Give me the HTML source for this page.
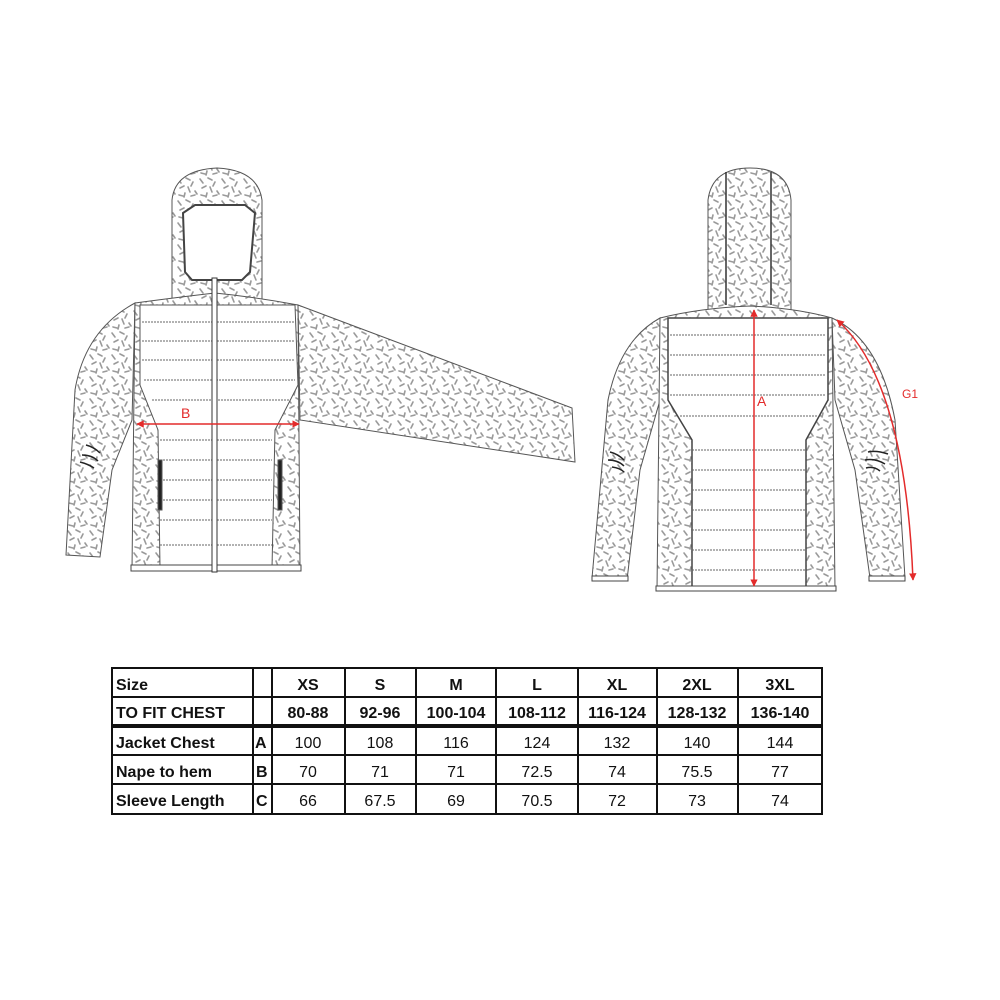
<!DOCTYPE html>
<html><head><meta charset="utf-8"><style>
html,body{margin:0;padding:0;background:#fff;}
svg{display:block;}
</style></head><body>
<svg width="1000" height="1000" viewBox="0 0 1000 1000" xmlns="http://www.w3.org/2000/svg">
<defs>
<pattern id="sp" width="22" height="22" patternUnits="userSpaceOnUse">
<rect width="22" height="22" fill="#fff"/>
<g stroke="#9a9a9a" stroke-width="1.6" stroke-linecap="round" fill="none">
<path d="M2 3 l3 4"/><path d="M10 2 l4 2"/><path d="M17 6 l-2 4"/><path d="M4 12 l4 -2"/><path d="M12 11 l2 5"/><path d="M19 15 l2 3"/><path d="M3 19 l4 1"/><path d="M9 17 l-1 4"/><path d="M15 20 l4 -1"/>
</g>
</pattern>
<marker id="ar" viewBox="0 0 10 10" refX="9" refY="5" markerWidth="5" markerHeight="5" orient="auto-start-reverse"><path d="M0 0 L10 5 L0 10 z" fill="#e32b2b"/></marker>
</defs>
<g stroke="#555" stroke-width="1">
<!-- FRONT JACKET -->
<path d="M172 300 L172 200 Q175 170 217 168 Q258 170 262 200 L262 300 Z" fill="url(#sp)"/>
<path d="M183 213 L195 205 L245 205 L255 213 L250 272 L242 280 L192 280 L185 272 Z" fill="#fff" stroke="#444" stroke-width="2"/>
<!-- right extended sleeve -->
<path d="M298 305 L572 408 L575 462 L300 420 Z" fill="url(#sp)"/>
<!-- left sleeve -->
<path d="M135 303 Q85 330 75 390 L66 555 L100 557 L112 470 L132 420 Z" fill="url(#sp)"/>
<!-- body -->
<path d="M135 303 Q180 297 215 293 Q255 297 298 305 L300 570 L132 570 Z" fill="url(#sp)"/>
<path d="M140 305 L295 305 L298 385 L275 430 L272 568 L160 568 L158 430 L140 385 Z" fill="#fff"/>
<g stroke="#666" stroke-dasharray="2 1">
<line x1="142" y1="322" x2="295" y2="322"/><line x1="142" y1="341" x2="295" y2="341"/><line x1="142" y1="360" x2="295" y2="360"/><line x1="144" y1="380" x2="295" y2="380"/><line x1="152" y1="400" x2="290" y2="400"/><line x1="160" y1="440" x2="272" y2="440"/><line x1="160" y1="460" x2="272" y2="460"/><line x1="160" y1="480" x2="272" y2="480"/><line x1="160" y1="500" x2="272" y2="500"/><line x1="160" y1="520" x2="272" y2="520"/><line x1="160" y1="545" x2="272" y2="545"/>
</g>
<rect x="131" y="565" width="170" height="6" fill="#fff" stroke="#444"/>
<rect x="212" y="278" width="5" height="294" fill="#fff" stroke="#333"/>
<rect x="158" y="460" width="4" height="50" fill="#222"/>
<rect x="278" y="460" width="4" height="50" fill="#222"/>
<path d="M86 445 q8 2 14 8 M82 455 q10 0 16 6 M80 462 q8 2 14 6" stroke="#222" stroke-width="1.5" fill="none"/>
<!-- BACK JACKET -->
<path d="M708 310 L708 200 Q712 168 750 168 Q788 168 791 200 L791 310 Z" fill="url(#sp)"/>
<path d="M726 172 L726 305 M771 172 L771 305" stroke="#333" stroke-width="1.5"/>
<path d="M660 318 Q620 340 608 400 L592 578 L627 580 L640 470 L660 400 Z" fill="url(#sp)"/>
<path d="M832 318 Q880 340 895 420 L905 578 L870 578 L855 470 L835 400 Z" fill="url(#sp)"/>
<path d="M660 318 Q700 308 750 306 Q795 308 832 318 L835 590 L657 590 Z" fill="url(#sp)"/>
<path d="M668 318 L828 318 L828 400 L806 440 L806 587 L692 587 L692 440 L668 400 Z" fill="#fff" stroke="#444" stroke-width="1.5"/>
<g stroke="#666" stroke-dasharray="2 1">
<line x1="670" y1="335" x2="826" y2="335"/><line x1="670" y1="355" x2="826" y2="355"/><line x1="670" y1="375" x2="826" y2="375"/><line x1="670" y1="395" x2="826" y2="395"/><line x1="680" y1="416" x2="818" y2="416"/><line x1="692" y1="450" x2="806" y2="450"/><line x1="692" y1="470" x2="806" y2="470"/><line x1="692" y1="490" x2="806" y2="490"/><line x1="692" y1="510" x2="806" y2="510"/><line x1="692" y1="530" x2="806" y2="530"/><line x1="692" y1="550" x2="806" y2="550"/><line x1="692" y1="570" x2="806" y2="570"/>
</g>
<rect x="656" y="586" width="180" height="5" fill="#fff" stroke="#444"/>
<rect x="592" y="576" width="36" height="5" fill="#fff" stroke="#444"/>
<rect x="869" y="576" width="36" height="5" fill="#fff" stroke="#444"/>
<path d="M610 452 q8 2 14 8 M608 460 q10 0 16 6 M612 467 q8 1 12 5" stroke="#222" stroke-width="1.5" fill="none"/>
<path d="M868 452 q8 -2 20 2 M865 460 q10 -2 20 4 M866 468 q8 -2 14 3" stroke="#222" stroke-width="1.5" fill="none"/>
</g>
<!-- red arrows -->
<line x1="137" y1="424" x2="299" y2="424" stroke="#e32b2b" stroke-width="1.5" marker-start="url(#ar)" marker-end="url(#ar)"/>
<text x="181" y="418" font-family="Liberation Sans, sans-serif" font-size="14" fill="#e32b2b">B</text>
<line x1="754" y1="310" x2="754" y2="586" stroke="#e32b2b" stroke-width="1.5" marker-start="url(#ar)" marker-end="url(#ar)"/>
<text x="757" y="406" font-family="Liberation Sans, sans-serif" font-size="14" fill="#e32b2b">A</text>
<path d="M837 320 Q905 380 913 580" stroke="#e32b2b" stroke-width="1.5" fill="none" marker-start="url(#ar)" marker-end="url(#ar)"/>
<text x="902" y="398" font-family="Liberation Sans, sans-serif" font-size="12" fill="#e32b2b">G1</text>
<!-- TABLE -->
<g stroke="#111" stroke-width="2" fill="none">
<rect x="112" y="668" width="710" height="146"/>
<line x1="112" y1="697" x2="822" y2="697"/>
<line x1="112" y1="726" x2="822" y2="726" stroke-width="4"/>
<line x1="112" y1="755" x2="822" y2="755"/>
<line x1="112" y1="784" x2="822" y2="784"/>
<line x1="253" y1="668" x2="253" y2="814"/><line x1="272" y1="668" x2="272" y2="814"/><line x1="345" y1="668" x2="345" y2="814"/><line x1="416" y1="668" x2="416" y2="814"/><line x1="496" y1="668" x2="496" y2="814"/><line x1="578" y1="668" x2="578" y2="814"/><line x1="657" y1="668" x2="657" y2="814"/><line x1="738" y1="668" x2="738" y2="814"/>
</g>
<g font-family="Liberation Sans, sans-serif" font-size="16" fill="#111">
<g font-weight="bold">
<text x="116" y="690">Size</text><text x="116" y="718">TO FIT CHEST</text>
<text x="116" y="748">Jacket Chest</text><text x="116" y="777">Nape to hem</text><text x="116" y="806">Sleeve Length</text>
<text x="255" y="748">A</text><text x="256" y="777">B</text><text x="256" y="806">C</text>
</g>
<g text-anchor="middle" font-weight="bold">
<text x="308" y="690">XS</text><text x="380" y="690">S</text><text x="456" y="690">M</text><text x="537" y="690">L</text><text x="617" y="690">XL</text><text x="697" y="690">2XL</text><text x="780" y="690">3XL</text>
<text x="308" y="718">80-88</text><text x="380" y="718">92-96</text><text x="456" y="718">100-104</text><text x="537" y="718">108-112</text><text x="617" y="718">116-124</text><text x="697" y="718">128-132</text><text x="780" y="718">136-140</text>
</g>
<g text-anchor="middle">
<text x="308" y="748">100</text><text x="380" y="748">108</text><text x="456" y="748">116</text><text x="537" y="748">124</text><text x="617" y="748">132</text><text x="697" y="748">140</text><text x="780" y="748">144</text>
<text x="308" y="777">70</text><text x="380" y="777">71</text><text x="456" y="777">71</text><text x="537" y="777">72.5</text><text x="617" y="777">74</text><text x="697" y="777">75.5</text><text x="780" y="777">77</text>
<text x="308" y="806">66</text><text x="380" y="806">67.5</text><text x="456" y="806">69</text><text x="537" y="806">70.5</text><text x="617" y="806">72</text><text x="697" y="806">73</text><text x="780" y="806">74</text>
</g>
</g>
</svg>
</body></html>
